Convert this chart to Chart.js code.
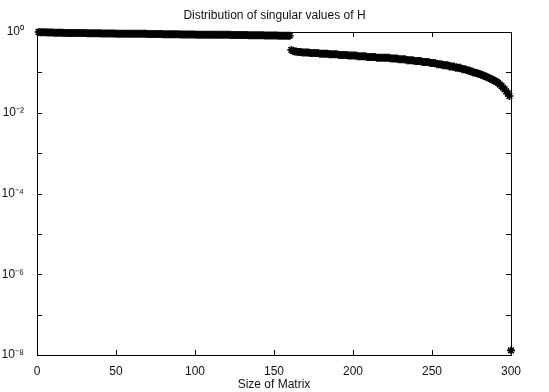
<!DOCTYPE html>
<html>
<head>
<meta charset="utf-8">
<script src="https://cdn.jsdelivr.net/npm/chart.js@4/dist/chart.umd.min.js"></script>
<style>
  html, body { margin: 0; padding: 0; background: #fff; }
  #wrap { width: 549px; height: 392px; }
</style>
</head>
<body>
<div id="wrap"><canvas id="sv"></canvas></div>
<script>
// singular values, matrix size 1..160
const upperVals = [
  1.00,0.99,0.99,0.98,0.98,0.98,0.97,0.97,0.97,0.97,
  0.96,0.96,0.96,0.96,0.96,0.96,0.95,0.95,0.95,0.95,
  0.95,0.95,0.95,0.94,0.94,0.94,0.94,0.94,0.94,0.94,
  0.94,0.93,0.93,0.93,0.93,0.93,0.93,0.93,0.93,0.93,
  0.92,0.92,0.92,0.92,0.92,0.92,0.92,0.92,0.92,0.91,
  0.91,0.91,0.91,0.91,0.91,0.91,0.91,0.91,0.91,0.90,
  0.90,0.90,0.90,0.90,0.90,0.90,0.90,0.90,0.90,0.89,
  0.89,0.89,0.89,0.89,0.89,0.89,0.89,0.89,0.89,0.88,
  0.88,0.88,0.88,0.88,0.88,0.88,0.88,0.88,0.88,0.88,
  0.87,0.87,0.87,0.87,0.87,0.87,0.87,0.87,0.87,0.87,
  0.86,0.86,0.86,0.86,0.86,0.86,0.86,0.86,0.86,0.86,
  0.86,0.85,0.85,0.85,0.85,0.85,0.85,0.85,0.85,0.85,
  0.85,0.85,0.84,0.84,0.84,0.84,0.84,0.84,0.84,0.84,
  0.84,0.84,0.84,0.83,0.83,0.83,0.83,0.83,0.83,0.83,
  0.83,0.83,0.83,0.82,0.82,0.82,0.82,0.82,0.82,0.82,
  0.82,0.82,0.81,0.81,0.81,0.81,0.81,0.81,0.81,0.81
];
// matrix size 161..300
const lowerVals = [
  0.36,0.34,0.33,0.33,0.32,0.32,0.32,0.31,0.31,0.31,
  0.31,0.31,0.30,0.30,0.30,0.30,0.30,0.30,0.29,0.29,
  0.29,0.29,0.29,0.29,0.28,0.28,0.28,0.28,0.28,0.28,
  0.27,0.27,0.27,0.27,0.27,0.27,0.26,0.26,0.26,0.26,
  0.26,0.26,0.25,0.25,0.25,0.25,0.25,0.25,0.24,0.24,
  0.24,0.24,0.24,0.24,0.23,0.23,0.23,0.23,0.23,0.23,
  0.23,0.23,0.23,0.22,0.22,0.22,0.22,0.22,0.21,0.21,
  0.21,0.21,0.21,0.20,0.20,0.20,0.20,0.20,0.19,0.19,
  0.19,0.19,0.19,0.18,0.18,0.18,0.18,0.18,0.17,0.17,
  0.17,0.17,0.16,0.16,0.16,0.16,0.15,0.15,0.15,0.15,
  0.14,0.14,0.14,0.14,0.13,0.13,0.13,0.13,0.12,0.12,
  0.12,0.115,0.11,0.11,0.105,0.10,0.10,0.097,0.094,0.091,
  0.088,0.085,0.082,0.079,0.076,0.073,0.070,0.067,0.064,0.061,
  0.058,0.054,0.050,0.046,0.042,0.038,0.034,0.030,
  0.026,1.3e-8
];

const xTicks = [0, 50, 100, 150, 200, 250, 300];
const yTicks = [1, 1e-1, 1e-2, 1e-3, 1e-4, 1e-5, 1e-6, 1e-7, 1e-8];
const yTickLabels = ['10\u2070', '', '10\u207B\u00B2', '', '10\u207B\u2074', '', '10\u207B\u2076', '', '10\u207B\u2078'];

const singular = upperVals.concat(lowerVals);
const points = singular.map((v, i) => ({ x: i + 1, y: v }));

const FONT = 'Liberation Sans, Arial, sans-serif';

// matlab-ish box with inward ticks
const boxTicks = {
  id: 'boxTicks',
  afterDatasetsDraw(chart) {
    const { ctx, chartArea: a, scales } = chart;
    ctx.save();
    ctx.strokeStyle = '#000';
    ctx.lineWidth = 1;
    ctx.beginPath();
    ctx.rect(Math.round(a.left) + 0.5, Math.round(a.top) + 0.5, Math.round(a.right - a.left), Math.round(a.bottom - a.top));
    xTicks.forEach(t => {
      const px = Math.round(scales.x.getPixelForValue(t)) + 0.5;
      ctx.moveTo(px, a.bottom); ctx.lineTo(px, a.bottom - 5);
      ctx.moveTo(px, a.top); ctx.lineTo(px, a.top + 5);
    });
    yTicks.forEach(t => {
      const py = Math.round(scales.y.getPixelForValue(t)) + 0.5;
      ctx.moveTo(a.left, py); ctx.lineTo(a.left + 5, py);
      ctx.moveTo(a.right, py); ctx.lineTo(a.right - 5, py);
    });
    ctx.stroke();
    ctx.restore();
  }
};

new Chart(document.getElementById('sv'), {
  type: 'scatter',
  data: {
    datasets: [{
      label: 'singular values',
      data: points,
      pointStyle: 'star',
      pointRadius: 4,
      borderWidth: 1.6,
      borderColor: '#000',
      backgroundColor: '#000',
      clip: false
    }]
  },
  options: {
    responsive: true,
    maintainAspectRatio: false,
    animation: false,
    layout: { padding: 0 },
    plugins: {
      legend: { display: false },
      tooltip: { enabled: false },
      title: {
        display: true,
        text: 'Distribution of singular values of H',
        color: '#111',
        font: { family: FONT, size: 12, weight: 'normal' },
        padding: { top: 8, bottom: 9.6 }
      }
    },
    scales: {
      x: {
        type: 'linear',
        min: 0, max: 300,
        afterBuildTicks: s => { s.ticks = xTicks.map(v => ({ value: v })); },
        afterFit: s => { s.height = 37; },
        grid: { display: false },
        border: { display: false },
        ticks: { color: '#111', font: { family: FONT, size: 12 }, padding: 1, maxRotation: 0 },
        title: {
          display: true, text: 'Size of Matrix', color: '#111',
          font: { family: FONT, size: 12 }, padding: { top: 0, bottom: 0 }
        }
      },
      y: {
        type: 'logarithmic',
        min: 1e-8, max: 1,
        afterBuildTicks: s => { s.ticks = yTicks.map(v => ({ value: v })); },
        afterFit: s => { s.width = 37; },
        grid: { display: false },
        border: { display: false },
        ticks: {
          color: '#111', font: { family: FONT, size: 12 }, padding: 5,
          callback: (v, i) => yTickLabels[i]
        }
      },
      // empty right margin so the title centres over the plot
      yRight: {
        type: 'linear',
        position: 'right',
        afterFit: s => { s.width = 38; },
        grid: { display: false },
        border: { display: false },
        ticks: { display: false }
      }
    }
  },
  plugins: [boxTicks]
});
</script>
</body>
</html>
